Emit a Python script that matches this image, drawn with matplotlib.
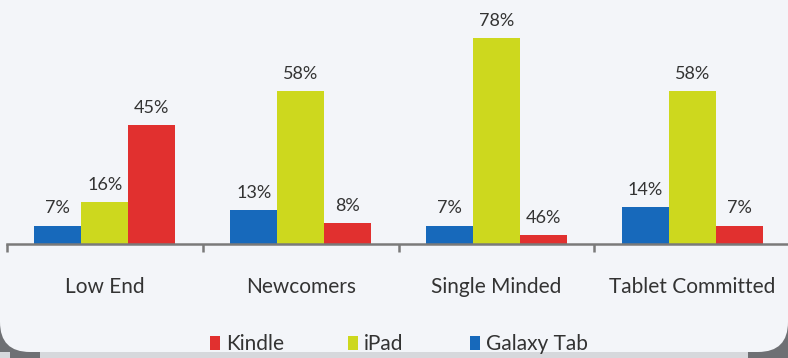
import numpy as np
import matplotlib.pyplot as plt
from matplotlib.patches import FancyBboxPatch, Rectangle

plt.rcParams['font.family'] = ['Lato', 'DejaVu Sans']

# data
segments = ['Low End', 'Newcomers', 'Single Minded', 'Tablet Committed']
galaxy = [7, 13, 7, 14]
ipad = [16, 58, 78, 58]
kindle = [45, 8, 3.5, 7]
galaxy_labels = ['7%', '13%', '7%', '14%']
ipad_labels = ['16%', '58%', '78%', '58%']
kindle_labels = ['45%', '8%', '46%', '7%']

c_blue = '#1769bb'
c_yellow = '#cdd81e'
c_red = '#e1302f'
txt = '#333333'

fig = plt.figure(figsize=(7.88, 3.58), dpi=100)
fig.patch.set_facecolor('#d6d8dc')

# background panel with rounded bottom corners (pixel coords)
bg = fig.add_axes([0, 0, 1, 1], zorder=0)
bg.set_xlim(0, 788)
bg.set_ylim(0, 358)
bg.axis('off')
bg.add_patch(Rectangle((0, 0), 40, 40, fc='#6e7074', ec='none'))
bg.add_patch(Rectangle((748, 0), 40, 40, fc='#6e7074', ec='none'))
bg.add_patch(FancyBboxPatch((0, 6), 788, 400, boxstyle='round,pad=0,rounding_size=30',
                            fc='#f3f5f9', ec='none'))
bg.add_patch(Rectangle((0, 0), 10, 6, fc='#d6d8dc', ec='none'))

ax = fig.add_axes([7 / 788, 114 / 358, 783 / 788, 224 / 358], zorder=1)
ax.patch.set_alpha(0)
x = np.arange(len(segments))
w = 0.24

ax.bar(x - w, galaxy, w, color=c_blue)
ax.bar(x, ipad, w, color=c_yellow)
ax.bar(x + w, kindle, w, color=c_red)

for vals, labs, off in [(galaxy, galaxy_labels, -w), (ipad, ipad_labels, 0), (kindle, kindle_labels, w)]:
    for xi, v, lab in zip(x, vals, labs):
        ax.text(xi + off, v + 3.5, lab, ha='center', va='bottom', fontsize=13, color=txt)

ax.set_xlim(-0.5, 3.5)
ax.set_ylim(0, 85)
for s in ['top', 'right', 'left']:
    ax.spines[s].set_visible(False)
ax.spines['bottom'].set_color('#7a7a7a')
ax.spines['bottom'].set_linewidth(1.8)
ax.set_yticks([])
ax.set_xticks(x)
ax.set_xticklabels(segments, fontsize=15, color=txt)
ax.tick_params(axis='x', which='major', length=0, pad=24)
ax.set_xticks(np.arange(-0.5, 4, 1), minor=True)
ax.tick_params(axis='x', which='minor', length=6, width=1.8, color='#7a7a7a', direction='out')

# legend drawn in pixel coords
leg = [(210, c_red, 'Kindle'), (348, c_yellow, 'iPad'), (470, c_blue, 'Galaxy Tab')]
for px, col, name in leg:
    bg.add_patch(Rectangle((px, 8), 10, 14, fc=col, ec='none'))
    bg.text(px + 16, 14, name, fontsize=15, color=txt, va='center', ha='left')

fig.savefig('out.png', dpi=100, facecolor=fig.get_facecolor())
